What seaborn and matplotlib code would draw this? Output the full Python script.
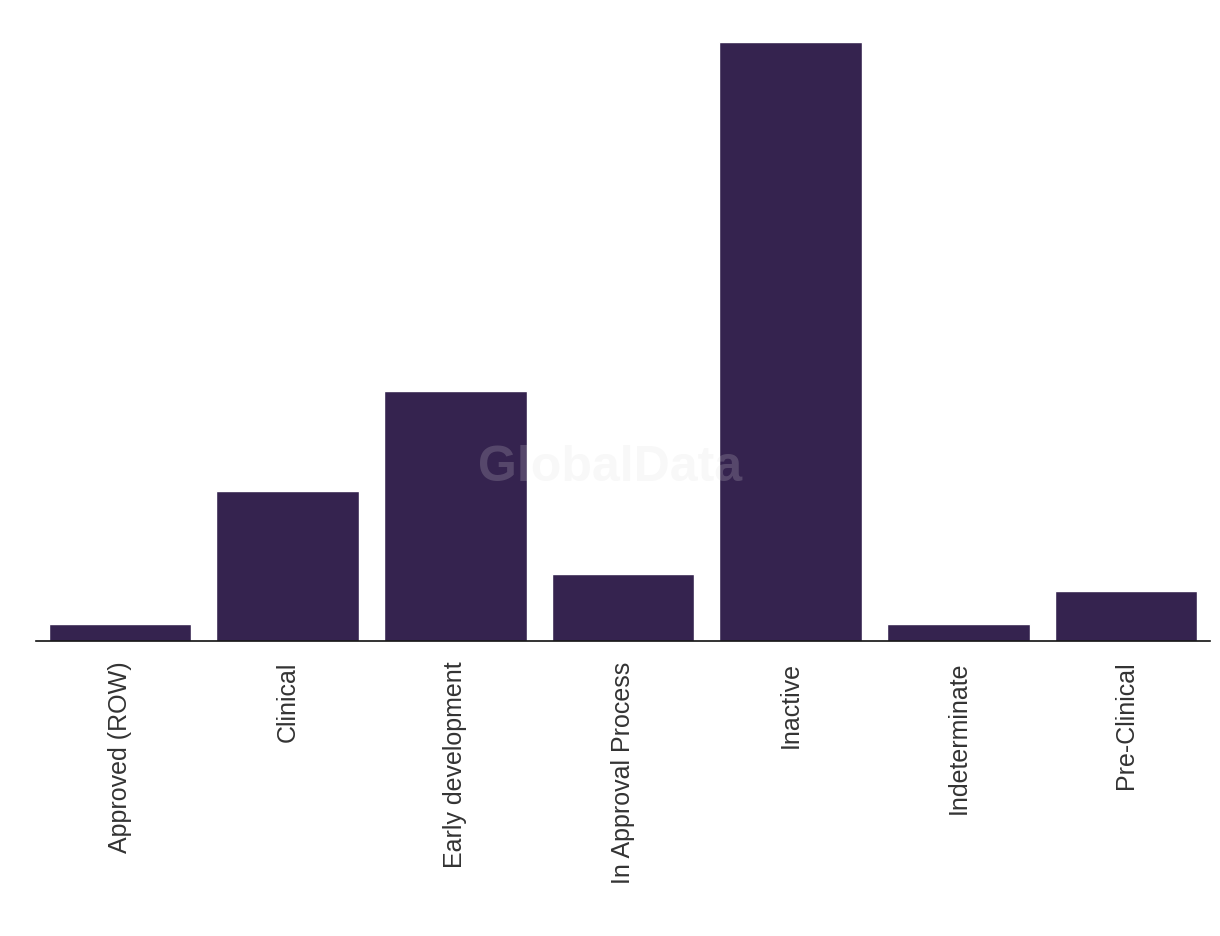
import matplotlib
matplotlib.use("Agg")
import matplotlib.pyplot as plt
import seaborn as sns
import pandas as pd

# pipeline stage counts
stages = ["Approved (ROW)", "Clinical", "Early development", "In Approval Process",
          "Inactive", "Indeterminate", "Pre-Clinical"]
counts = [1, 9, 15, 4, 36, 1, 3]

df = pd.DataFrame({"stage": stages, "count": counts})

sns.set_style("white")
plt.rcParams["font.family"] = ["Liberation Sans", "DejaVu Sans"]

fig = plt.figure(figsize=(12.2, 9.36), dpi=100)
ax = fig.add_axes([0.0295, 0.3152, 0.9623, 0.6398])

sns.barplot(data=df, x="stage", y="count", color="#35234f", saturation=1,
            width=0.85, ax=ax)

ax.set_xlim(-0.5, len(stages) - 0.5)
ax.set_ylim(0, 36)
ax.set_xlabel("")
ax.set_ylabel("")
ax.set_yticks([])
ax.tick_params(axis="x", length=0, pad=15, labelsize=18, labelcolor="#333333")
plt.setp(ax.get_xticklabels(), rotation=90, va="top", ha="center")
for s in ["top", "right", "left"]:
    ax.spines[s].set_visible(False)
ax.spines["bottom"].set_color("#111111")
ax.spines["bottom"].set_linewidth(1.2)

fig.text(0.5, 0.5, "GlobalData", ha="center", va="center", fontsize=36,
         fontweight="bold", color="#dcdcdc", alpha=0.2, zorder=10)

fig.savefig("out.png", dpi=100)
